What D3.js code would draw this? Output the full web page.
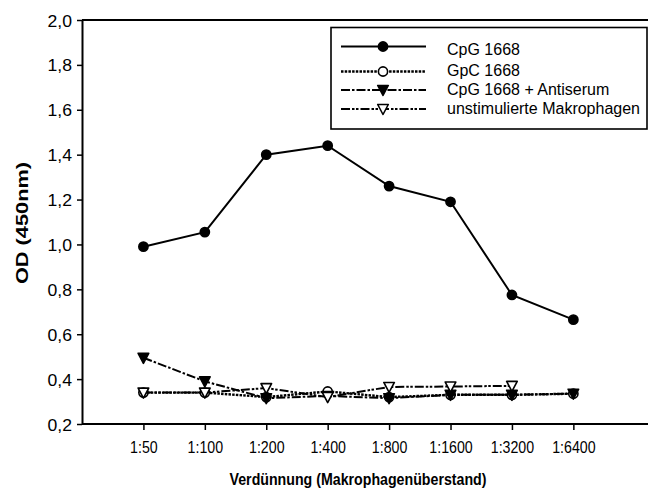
<!DOCTYPE html>
<html><head><meta charset="utf-8">
<script src="https://cdn.jsdelivr.net/npm/d3@7"></script>
<style>body{margin:0;background:#fff}svg{display:block}text{font-family:"Liberation Sans",Arial,sans-serif}</style>
</head><body><svg id="c" width="648" height="491"></svg>
<script>
const categories = ["1:50","1:100","1:200","1:400","1:800","1:1600","1:3200","1:6400"];
const cpg = [0.99,1.055,1.40,1.44,1.26,1.19,0.775,0.665];
const gpc = [0.34,0.34,0.32,0.345,0.32,0.33,0.33,0.335];
const antiserum = [0.495,0.39,0.315,0.325,0.315,0.33,0.33,0.335];
const unstim = [0.34,0.34,0.36,0.32,0.365,0.367,0.37];
const yTicks = [0.2,0.4,0.6,0.8,1.0,1.2,1.4,1.6,1.8,2.0];
const seriesNames = ["CpG 1668","GpC 1668","CpG 1668 + Antiserum","unstimulierte Makrophagen"];

const svg = d3.select("#c");
const L=82, T=20, B=424, R=648;
const x = d3.scaleLinear().domain([0,9]).range([L, L+61.42*9]);
const y = d3.scaleLinear().domain([0.2,2.0]).range([B, T]);

const fmt = d => d.toFixed(1).replace(".",",");
// y axis
const ya = svg.append("g").attr("transform",`translate(${L},0)`)
  .call(d3.axisLeft(y).tickValues(yTicks).tickFormat(fmt).tickSize(5).tickSizeOuter(0));
ya.select(".domain").attr("stroke-width",2);
ya.selectAll(".tick line").attr("stroke-width",1.5);
ya.selectAll(".tick text").attr("font-size",16).attr("fill","#000").attr("x",null).attr("dy",null)
  .attr("transform","translate(-10,6) scale(1.1,1)");
// x axis
const xa = svg.append("g").attr("transform",`translate(0,${B})`)
  .call(d3.axisBottom(x).tickValues(d3.range(1,9)).tickFormat(i=>categories[i-1]).tickSize(6).tickSizeOuter(0));
xa.select(".domain").attr("d",`M${L},0H${R}`).attr("stroke-width",2);
xa.selectAll(".tick line").attr("stroke-width",1.5);
xa.selectAll(".tick text").attr("font-size",14.2).attr("fill","#000").attr("y",null).attr("dy",null)
  .attr("transform","translate(0,29) scale(1,1.18)");
// top line
svg.append("line").attr("x1",L).attr("x2",R).attr("y1",T).attr("y2",T).attr("stroke","#000").attr("stroke-width",2);

// titles
svg.append("text").attr("transform","translate(358,485) scale(1,1.18)").attr("text-anchor","middle").attr("font-size",14.2).attr("font-weight","bold").text("Verdünnung (Makrophagenüberstand)");
svg.append("text").attr("transform","translate(28,223) rotate(-90) scale(1.32,1)").attr("text-anchor","middle").attr("font-size",16.5).attr("font-weight","bold").text("OD (450nm)");

const series = [
  {vals:cpg, dash:null, w:2, marker:"circle", fill:"#000"},
  {vals:gpc, dash:"2.5,1.2", w:2.4, marker:"circle", fill:"#fff"},
  {vals:antiserum, dash:"9,2,2.5,2", w:2, marker:"tri", fill:"#000"},
  {vals:unstim, dash:"9,2,2.5,1.5,2.5,2", w:2, marker:"tri", fill:"#fff"}
];
const line = d3.line().x((d,i)=>x(i+1)).y(d=>y(d));
function drawMarker(g, type, fill, cx, cy){
  if(type==="circle"){
    g.append("circle").attr("cx",cx).attr("cy",cy).attr("r",4.6).attr("fill",fill).attr("stroke","#000").attr("stroke-width",1.6);
  } else {
    g.append("path").attr("d",`M${cx-5.3},${cy-4.5}L${cx+5.3},${cy-4.5}L${cx},${cy+5.5}Z`).attr("fill",fill).attr("stroke","#000").attr("stroke-width",1.6).attr("stroke-linejoin","round");
  }
}
series.forEach(s=>{
  const g = svg.append("g");
  g.append("path").attr("d",line(s.vals)).attr("fill","none").attr("stroke","#000").attr("stroke-width",s.w).attr("stroke-dasharray",s.dash);
  s.vals.forEach((v,i)=>drawMarker(g,s.marker,s.fill,x(i+1),y(v)));
});

// legend
const lg = svg.append("g");
lg.append("rect").attr("x",331).attr("y",27.5).attr("width",316).attr("height",101.5).attr("fill","#fff").attr("stroke","#000").attr("stroke-width",1.6);
const lineY = [46.5,71.5,90,109];
const textY = [49,70.5,89,108];
series.forEach((s,i)=>{
  const yy = lineY[i];
  lg.append("line").attr("x1",341).attr("x2",426).attr("y1",yy).attr("y2",yy).attr("stroke","#000").attr("stroke-width",s.w).attr("stroke-dasharray",s.dash);
  drawMarker(lg,s.marker,s.fill,383,yy);
  lg.append("text").attr("x",447).attr("y",textY[i]).attr("dy","0.36em").attr("font-size",16).text(seriesNames[i]);
});
</script></body></html>
